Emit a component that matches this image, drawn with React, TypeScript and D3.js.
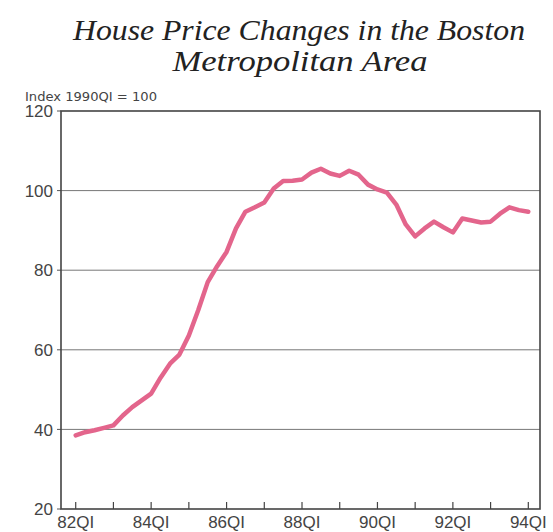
import React from "react";
import * as d3 from "d3";

const titleLines = ["House Price Changes in the Boston", "Metropolitan Area"];
const unitLabel = "Index 1990QI = 100";
const values = [
  38.5, 39.3, 39.8, 40.4, 41.0, 43.5, 45.6, 47.3, 49.0, 53.0, 56.5, 58.8,
  63.6, 70.0, 77.0, 81.0, 84.6, 90.5, 94.7, 95.8, 97.0, 100.5, 102.4, 102.5,
  102.8, 104.5, 105.5, 104.3, 103.7, 105.0, 104.0, 101.5, 100.3, 99.5, 96.5, 91.5,
  88.5, 90.5, 92.2, 90.8, 89.5, 93.0, 92.5, 92.0, 92.2, 94.2, 95.8, 95.1, 94.7,
];
const xTickLabels = ["82QI", "84QI", "86QI", "88QI", "90QI", "92QI", "94QI"];
const yTicks = [20, 40, 60, 80, 100, 120];

export default function App() {
  const W = 553, H = 532;
  const left = 61, right = 540, top = 111, bottom = 509;
  const x = d3.scaleLinear().domain([-1.56, 49.24]).range([left, right]);
  const y = d3.scaleLinear().domain([20, 120]).range([bottom, top]);
  const line = d3
    .line<number>()
    .x((_, i) => x(i))
    .y((d) => y(d))
    .curve(d3.curveLinear);
  const quarterTicks = d3.range(0, values.length, 4);
  const sans = "'Liberation Sans', Arial, sans-serif";
  return (
    <svg
      width={W}
      height={H}
      style={{ position: "absolute", left: 0, top: 0, background: "#fff" }}
    >
      <g fontFamily="'Liberation Serif', serif" fontStyle="italic" fontSize={30} fill="#222" textAnchor="middle">
        <text x={299} y={40} textLength={452} lengthAdjust="spacingAndGlyphs">{titleLines[0]}</text>
        <text x={300} y={71} textLength={255} lengthAdjust="spacingAndGlyphs">{titleLines[1]}</text>
      </g>
      <text x={25} y={101} fontFamily="'DejaVu Sans', sans-serif" fontSize={13} fill="#444" textLength={132} lengthAdjust="spacingAndGlyphs">
        {unitLabel}
      </text>
      {yTicks.filter((t) => t > 20 && t < 120).map((t) => (
        <line key={"g" + t} x1={left} x2={right} y1={y(t)} y2={y(t)} stroke="#777" strokeWidth={1} />
      ))}
      {yTicks.map((t) => (
        <g key={"y" + t}>
          <line x1={left - 4} x2={left} y1={y(t)} y2={y(t)} stroke="#555" strokeWidth={1} />
          <text x={53} y={y(t)} dy="0.36em" textAnchor="end" fontFamily={sans} fontSize={17} fill="#444">
            {t}
          </text>
        </g>
      ))}
      {quarterTicks.map((q) => (
        <line key={"xt" + q} x1={x(q)} x2={x(q)} y1={bottom} y2={bottom - 7} stroke="#444" strokeWidth={1.2} />
      ))}
      {xTickLabels.map((lab, i) => (
        <text key={lab} x={x(i * 8)} y={528} textAnchor="middle" fontFamily={sans} fontSize={17} fill="#444">
          {lab}
        </text>
      ))}
      <rect x={left} y={top} width={right - left} height={bottom - top} fill="none" stroke="#444" strokeWidth={1.6} />
      <path d={line(values) || ""} fill="none" stroke="#e3658c" strokeWidth={4.5} strokeLinejoin="round" strokeLinecap="round" />
    </svg>
  );
}
